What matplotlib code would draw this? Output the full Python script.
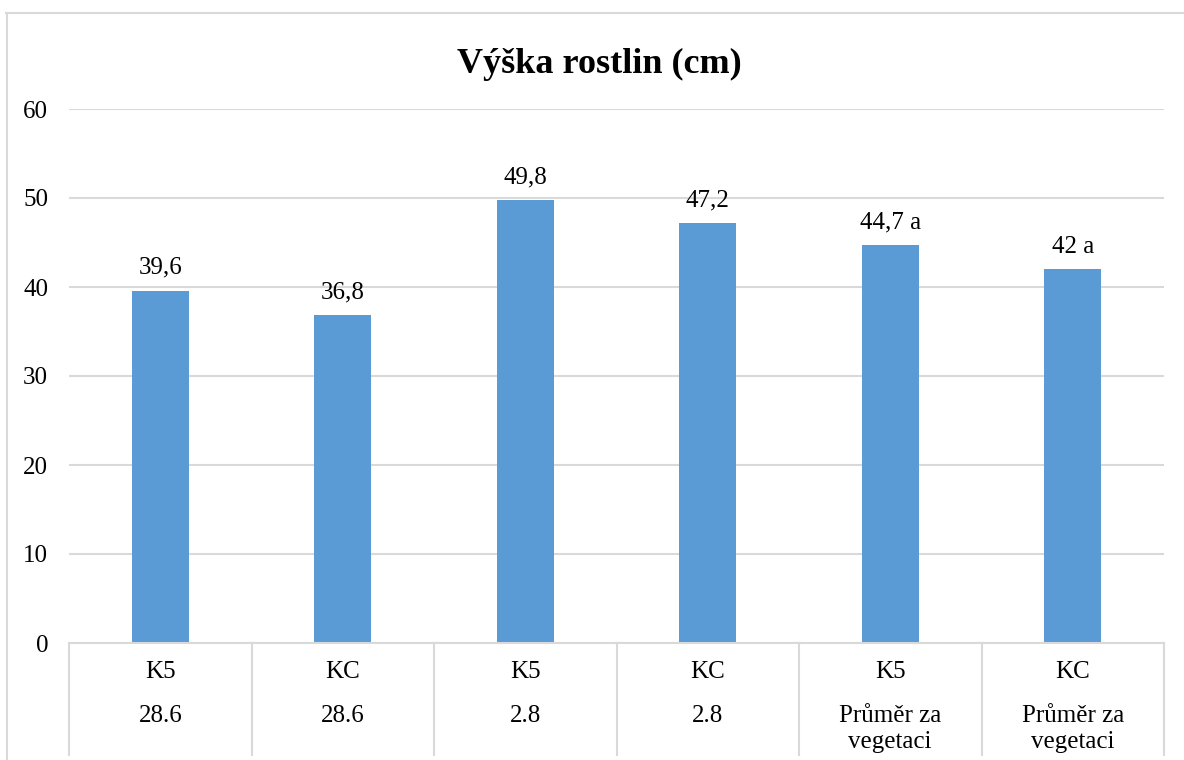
import matplotlib
matplotlib.use("Agg")
import matplotlib.pyplot as plt
from matplotlib.lines import Line2D

# Plant height data
variants = ["K5", "KC", "K5", "KC", "K5", "KC"]
dates = ["28.6", "28.6", "2.8", "2.8", "Průměr za\nvegetaci", "Průměr za\nvegetaci"]
heights = [39.6, 36.8, 49.8, 47.2, 44.7, 42.0]
letters = ["", "", "", "", "a", "a"]
yticks = [0, 10, 20, 30, 40, 50, 60]

plt.rcParams["font.family"] = ["Liberation Serif", "DejaVu Serif"]

BAR = "#5B9BD5"
GRID = "#D9D9D9"
FS = 18

W, H = 1184, 760
fig = plt.figure(figsize=(W / 100, H / 100), dpi=100)
ax = fig.add_axes([69 / W, 117 / H, 1095 / W, 534 / H])

x = list(range(len(heights)))
ax.bar(x, heights, width=0.31, color=BAR, zorder=3)

ax.set_xlim(-0.5, len(heights) - 0.5)
ax.set_ylim(0, 60)
ax.set_yticks(yticks)
ax.set_yticklabels([str(t) for t in yticks], fontsize=FS)
ax.tick_params(axis="y", length=0, pad=15)
ax.set_xticks([])
ax.grid(axis="y", color=GRID, linewidth=1.5, zorder=0)
for side in ["top", "right", "left"]:
    ax.spines[side].set_visible(False)
ax.spines["bottom"].set_color(GRID)
ax.spines["bottom"].set_linewidth(1.5)
ax.spines["bottom"].set_zorder(4)

# value labels above bars
for xi, v, let in zip(x, heights, letters):
    txt = f"{v:g}".replace(".", ",")
    if let:
        txt += " " + let
    ax.annotate(txt, (xi, v), xytext=(0, 12), textcoords="offset points",
                ha="center", va="baseline", fontsize=FS)

# two-level category axis
px = 1 / 534  # one pixel in axes fraction (vertical)
tr = ax.get_xaxis_transform()
for xi, var, d in zip(x, variants, dates):
    ax.text(xi, -35 * px, var, transform=tr, ha="center", va="baseline",
            fontsize=FS, clip_on=False)
    for k, line in enumerate(d.split("\n")):
        ax.text(xi, -(79 + 26 * k) * px, line, transform=tr, ha="center",
                va="baseline", fontsize=FS, clip_on=False)
for b in range(len(heights) + 1):
    ax.add_line(Line2D([b - 0.5, b - 0.5], [0, -112 * px], transform=tr,
                       color=GRID, linewidth=1.5, clip_on=False))

# title
fig.text(599 / W, 1 - 73 / H, "Výška rostlin (cm)", ha="center", va="baseline",
         fontsize=26, fontweight="bold")

# chart frame
fig.add_artist(Line2D([6 / W, 1.0], [1 - 12.5 / H, 1 - 12.5 / H],
                      transform=fig.transFigure, color=GRID, linewidth=1.5))
fig.add_artist(Line2D([6.5 / W, 6.5 / W], [1 - 12.5 / H, 0],
                      transform=fig.transFigure, color=GRID, linewidth=1.5))

fig.savefig("out.png", dpi=100)
